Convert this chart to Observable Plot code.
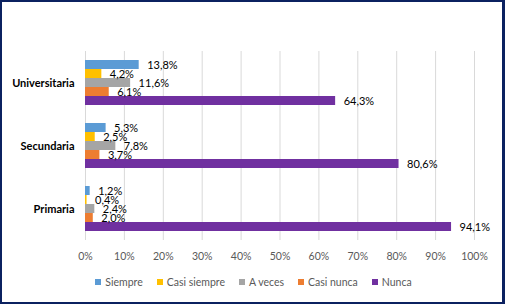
<!DOCTYPE html>
<html>
<head>
<meta charset="utf-8">
<script src="https://cdn.jsdelivr.net/npm/d3@7"></script>
<script src="https://cdn.jsdelivr.net/npm/@observablehq/plot@0.6"></script>
<style>
  html, body { margin: 0; padding: 0; background: #fff; }
  #page { position: relative; width: 505px; height: 304px; overflow: hidden; font-family: Lato, "Open Sans", sans-serif; }
  #chart { position: absolute; left: 0; top: 0; }
  #frame { position: absolute; left: 0; top: 0; width: 505px; height: 304px; box-sizing: border-box; border-style: solid; border-color: #0b2160; border-width: 2px 3px 2px 2px; pointer-events: none; }
  #legend { position: absolute; left: 0; top: 276px; width: 505px; display: flex; justify-content: center; align-items: center; font-size: 10.5px; color: #595959; padding-left: 2px; box-sizing: border-box; }
  .item { display: flex; align-items: center; margin: 0 7px; }
  .sw { width: 6px; height: 6px; margin-right: 4px; }
</style>
</head>
<body>
<div id="page">
  <div id="chart"></div>
  <div id="legend"></div>
  <div id="frame"></div>
</div>
<script>
const categories = ["Universitaria", "Secundaria", "Primaria"];
const series = ["Siempre", "Casi siempre", "A veces", "Casi nunca", "Nunca"];
const colors = ["#5B9BD5", "#FFC000", "#A5A5A5", "#ED7D31", "#7030A0"];
const siempre = [13.8, 5.3, 1.2];
const casiSiempre = [4.2, 2.5, 0.4];
const aVeces = [11.6, 7.8, 2.4];
const casiNunca = [6.1, 3.7, 2.0];
const nunca = [64.3, 80.6, 94.1];
const xTicks = [0, 10, 20, 30, 40, 50, 60, 70, 80, 90, 100];

const valuesBySeries = [siempre, casiSiempre, aVeces, casiNunca, nunca];
const rows = [];
categories.forEach((cat, i) => {
  series.forEach((s, j) => {
    rows.push({cat, series: s, value: valuesBySeries[j][i]});
  });
});
const fmt = v => v.toFixed(1).replace(".", ",") + "%";

const chart = Plot.plot({
  width: 505,
  height: 270,
  marginTop: 50,
  marginBottom: 29,
  marginLeft: 85,
  marginRight: 31,
  style: {fontFamily: "Lato, 'Open Sans', sans-serif", fontSize: "11px", background: "transparent"},
  x: {domain: [0, 100]},
  y: {domain: series, axis: null, paddingInner: 0, paddingOuter: 0.79},
  fy: {domain: categories, padding: 0, axis: null},
  color: {domain: series, range: colors},
  marks: [
    Plot.gridX(xTicks, {stroke: "#d9d9d9", strokeOpacity: 1, strokeWidth: 1}),
    Plot.barX(rows, {x: "value", y: "series", fy: "cat", fill: "series"}),
    Plot.text(rows, {x: "value", y: "series", fy: "cat", text: d => fmt(d.value), dx: 8, textAnchor: "start", fontSize: 11, fill: "#000"}),
    Plot.axisX(xTicks, {anchor: "bottom", tickSize: 0, tickPadding: 12, tickFormat: d => d + "%", fill: "#595959", fontSize: 10.5, label: null}),
    Plot.axisFy({anchor: "left", tickSize: 0, tickPadding: 11, fontWeight: "bold", fontSize: 11, fill: "#000", label: null})
  ]
});
document.getElementById("chart").appendChild(chart);

const legend = document.getElementById("legend");
series.forEach((s, j) => {
  const it = document.createElement("div");
  it.className = "item";
  const sw = document.createElement("span");
  sw.className = "sw";
  sw.style.background = colors[j];
  const tx = document.createElement("span");
  tx.textContent = s;
  it.appendChild(sw);
  it.appendChild(tx);
  legend.appendChild(it);
});
</script>
</body>
</html>
